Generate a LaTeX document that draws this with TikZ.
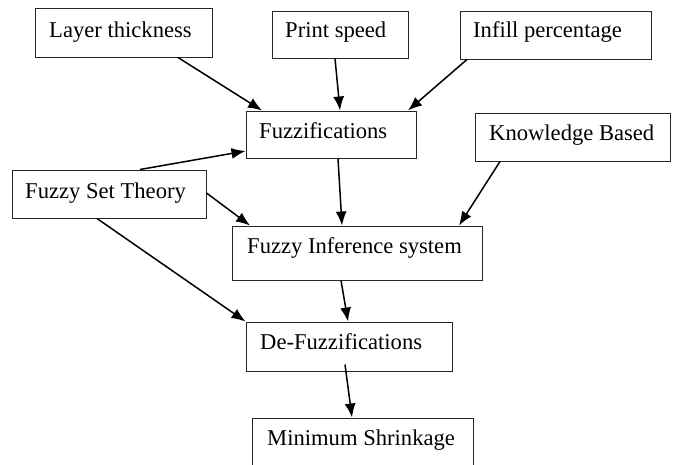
\documentclass[tikz,border=0pt]{standalone}
\usepackage{fontspec}
\setmainfont{Liberation Serif}
\usetikzlibrary{arrows.meta}
\begin{document}
\begin{tikzpicture}[x=1pt,y=-1pt,
  box/.style={draw=black!85,line width=1pt,rectangle,inner sep=0pt},
  txt/.style={anchor=base west,inner sep=0pt,font=\fontsize{22.6}{27}\selectfont},
  arr/.style={line width=1.5pt,-{Latex[length=14pt,width=11pt]}}]
\useasboundingbox (0,0) rectangle (676,464);
\begin{scope}
\clip (0,0) rectangle (676,464);
% boxes
\node[box,minimum width=177pt,minimum height=49pt] (lt) at (123.5,32.5) {};
\node[box,minimum width=136pt,minimum height=47pt] (ps) at (340,34.5) {};
\node[box,minimum width=191pt,minimum height=48pt] (inf) at (555.5,35) {};
\node[box,minimum width=170pt,minimum height=47pt] (fz) at (331,134.5) {};
\node[box,minimum width=195pt,minimum height=48pt] (kb) at (572.5,137) {};
\node[box,minimum width=194pt,minimum height=48pt] (fst) at (109,194) {};
\node[box,minimum width=250pt,minimum height=54pt] (fis) at (357,253) {};
\node[box,minimum width=206pt,minimum height=49pt] (df) at (349,346.5) {};
\node[box,minimum width=221pt,minimum height=48pt] (ms) at (362.5,442) {};
% texts
\node[txt] (ltt) at (49,37) {Layer thickness};
\node[txt] (pst) at (285,37) {Print speed};
\node[txt] (inft) at (473,37) {Infill percentage};
\node[txt] (fzt) at (259,138) {Fuzzifications};
\node[txt] (kbt) at (489,140) {Knowledge Based};
\node[txt] (fstt) at (25,198) {Fuzzy Set Theory};
\node[txt] (fist) at (247,253) {Fuzzy Inference system};
\node[txt] (dft) at (260,349) {De-Fuzzifications};
\node[txt] (mst) at (267,445) {Minimum Shrinkage};
% arrows
\draw[arr] ([xshift=54.5pt]lt.south) -- ([xshift=-69pt]fz.north);
\draw[arr] ([xshift=-5pt]ps.south) -- ([xshift=9pt]fz.north);
\draw[arr] ([xshift=-88.5pt]inf.south) -- ([xshift=77pt]fz.north);
\draw[arr] ([xshift=31pt]fst.north) -- ([yshift=-16.5pt]fz.west);
\draw[arr] ([yshift=1pt]fst.east) -- ([xshift=-107pt]fis.north);
\draw[arr] ([xshift=-12pt]fst.south) -- (df.north west);
\draw[arr] ([xshift=7pt]fz.south) -- ([xshift=-15pt]fis.north);
\draw[arr] ([xshift=-72.5pt]kb.south) -- ([xshift=102pt]fis.north);
\draw[arr] ([xshift=-16pt]fis.south) -- ([xshift=-1pt]df.north);
\draw[arr] ([xshift=-4pt,yshift=7pt]df.south) -- ([xshift=-10.5pt]ms.north);
\end{scope}
\end{tikzpicture}
\end{document}
